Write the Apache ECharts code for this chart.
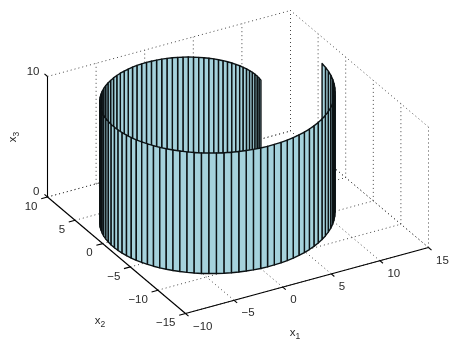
<!DOCTYPE html>
<html>
<head>
<meta charset="utf-8">
<style>html,body{margin:0;padding:0;background:#fff}#c{width:449px;height:341px}</style>
<script src="https://cdn.jsdelivr.net/npm/echarts@6/dist/echarts.min.js"></script>
</head>
<body>
<div id="c"></div>
<script>
// Curve of the wall
const x1Values=[6.28,6.33,6.36,6.36,6.33,6.27,6.19,6.08,5.95,5.78,5.59,5.37,5.13,4.86,4.57,4.25,3.91,3.54,3.16,2.75,2.33,1.89,1.44,0.97,0.49,0,-0.50,-1.00,-1.51,-2.02,-2.52,-3.03,-3.53,-4.03,-4.51,-4.99,-5.45,-5.89,-6.32,-6.73,-7.12,-7.48,-7.82,-8.13,-8.41,-8.67,-8.88,-9.07,-9.23,-9.34,-9.42,-9.47,-9.47,-9.44,-9.37,-9.26,-9.11,-8.93,-8.70,-8.43,-8.13,-7.79,-7.42,-7.01,-6.57,-6.09,-5.59,-5.06,-4.49,-3.91,-3.30,-2.67,-2.03,-1.36,-0.69,0,0.69,1.39,2.10,2.80,3.49,4.19,4.87,5.54,6.19,6.83,7.45,8.04,8.61,9.15,9.66,10.13,10.57,10.97,11.33,11.65,11.93,12.16,12.34,12.48,12.57];
const x2Values=[0,0.40,0.80,1.21,1.63,2.04,2.45,2.86,3.27,3.67,4.06,4.45,4.82,5.18,5.52,5.85,6.15,6.44,6.71,6.95,7.17,7.36,7.53,7.67,7.78,7.85,7.90,7.92,7.90,7.85,7.77,7.65,7.50,7.32,7.11,6.86,6.58,6.28,5.94,5.57,5.17,4.75,4.30,3.83,3.33,2.82,2.28,1.73,1.17,0.59,0,-0.60,-1.20,-1.80,-2.41,-3.01,-3.61,-4.20,-4.78,-5.35,-5.91,-6.45,-6.97,-7.47,-7.94,-8.39,-8.81,-9.20,-9.55,-9.87,-10.16,-10.41,-10.62,-10.78,-10.91,-11.00,-11.04,-11.03,-10.99,-10.89,-10.76,-10.57,-10.35,-10.08,-9.76,-9.40,-9.00,-8.57,-8.09,-7.57,-7.02,-6.43,-5.81,-5.16,-4.49,-3.79,-3.06,-2.32,-1.56,-0.79,0];
const x3Span=[0,10];
const x1Ticks=[-10,-5,0,5,10,15];
const x2Ticks=[-15,-10,-5,0,5,10];
const x3Ticks=[0,10];

// Orthographic view of the 3-D box on the page
const O=[185.5,313.5], EX=[243,-66], EY=[-138,-116.5], EZ=[0,-120.5];
function project(x,y,z){
  const a=(x-x1Ticks[0])/(x1Ticks[5]-x1Ticks[0]), b=(y-x2Ticks[0])/(x2Ticks[5]-x2Ticks[0]), c=z/10;
  return [O[0]+a*EX[0]+b*EY[0]+c*EZ[0], O[1]+a*EX[1]+b*EY[1]+c*EZ[1]];
}
const xMin=x1Ticks[0], xMax=x1Ticks[5], yMin=x2Ticks[0], yMax=x2Ticks[5], zMin=x3Ticks[0], zMax=x3Ticks[1];

// Wall panels, far ones first
const panels=[];
for(let i=0;i<x1Values.length-1;i++) panels.push([x1Values[i],x2Values[i],x1Values[i+1],x2Values[i+1]]);
const depth=p=>(p[0]+p[2])*0.494+(p[1]+p[3])*0.87;
panels.sort((p,q)=>depth(q)-depth(p));

// Segments in 3-D
const dotted=[], solid=[];
x1Ticks.forEach(x=>{dotted.push([x,yMin,zMin,x,yMax,zMin]);dotted.push([x,yMax,zMin,x,yMax,zMax]);});
x2Ticks.forEach(y=>{dotted.push([xMin,y,zMin,xMax,y,zMin]);dotted.push([xMax,y,zMin,xMax,y,zMax]);});
x3Ticks.forEach(z=>{dotted.push([xMin,yMax,z,xMax,yMax,z]);dotted.push([xMax,yMin,z,xMax,yMax,z]);});
solid.push([xMin,yMin,zMin,xMax,yMin,zMin],[xMin,yMin,zMin,xMin,yMax,zMin],[xMin,yMax,zMin,xMin,yMax,zMax]);
x1Ticks.forEach(x=>solid.push([x,yMin,zMin,x,yMin-0.55,zMin]));
x2Ticks.forEach(y=>solid.push([xMin,y,zMin,xMin-0.65,y,zMin]));
x3Ticks.forEach(z=>solid.push([xMin,yMax,z,xMin,yMax+0.55,z]));

const fmt=v=>String(v).replace('-','\u2212');
const FONT='"Liberation Sans",Arial,sans-serif';
const TXT='#2a2a2a';

function segSeries(data,style,z){
  return {type:'custom',coordinateSystem:'cartesian2d',silent:true,clip:false,z,data,
    renderItem(params,api){
      const a=api.coord(project(api.value(0),api.value(1),api.value(2)));
      const b=api.coord(project(api.value(3),api.value(4),api.value(5)));
      return {type:'line',shape:{x1:a[0],y1:a[1],x2:b[0],y2:b[1]},style};
    }};
}
function textEl(api,pos,dx,dy,text,align){
  const p=api.coord(pos);
  return {type:'text',x:p[0]+dx,y:p[1]+dy,style:{text,font:'11.5px '+FONT,fill:TXT,textAlign:align,textVerticalAlign:'middle'}};
}
function axisTitle(api,pos,sub,rotation){
  const p=api.coord(pos);
  return {type:'text',x:p[0],y:p[1],rotation:rotation||0,style:{text:'{x|x}{s|'+sub+'}',textAlign:'center',textVerticalAlign:'middle',
    rich:{x:{font:'11.5px '+FONT,fill:TXT},s:{font:'8.5px '+FONT,fill:TXT,padding:[7,0,0,0]}}}};
}

const option={
  animation:false,
  grid:{left:0,right:0,top:0,bottom:0},
  xAxis:{type:'value',min:0,max:449,show:false},
  yAxis:{type:'value',min:0,max:341,inverse:true,show:false},
  series:[
    segSeries(dotted,{stroke:'#444',lineWidth:1,lineDash:[1,3]},1),
    segSeries(solid,{stroke:'#000',lineWidth:1.1},2),
    {type:'custom',coordinateSystem:'cartesian2d',silent:true,clip:false,z:3,data:panels,
      renderItem(params,api){
        const xa=api.value(0),ya=api.value(1),xb=api.value(2),yb=api.value(3);
        const pts=[project(xa,ya,x3Span[0]),project(xb,yb,x3Span[0]),project(xb,yb,x3Span[1]),project(xa,ya,x3Span[1])].map(p=>api.coord(p));
        return {type:'polygon',shape:{points:pts},style:{fill:'#a5d2dc',stroke:'#0c1214',lineWidth:1.4,lineJoin:'round'}};
      }},
    {type:'custom',coordinateSystem:'cartesian2d',silent:true,clip:false,z:4,data:[0],
      renderItem(params,api){
        const children=[];
        x1Ticks.forEach(x=>children.push(textEl(api,project(x,yMin,zMin),7.5,13,fmt(x),'left')));
        x2Ticks.forEach(y=>children.push(textEl(api,project(xMin,y,zMin),-10,9.5,fmt(y),'right')));
        x3Ticks.forEach(z=>children.push(textEl(api,project(xMin,yMax,z),-8,-5,fmt(z),'right')));
        children.push(axisTitle(api,[295,333],'1'));
        children.push(axisTitle(api,[100,321],'2'));
        children.push(axisTitle(api,[13,137],'3',Math.PI/2));
        return {type:'group',children};
      }}
  ]
};
const chart=echarts.init(document.getElementById('c'),null,{renderer:'canvas',width:449,height:341});
chart.setOption(option);
</script>
</body>
</html>
